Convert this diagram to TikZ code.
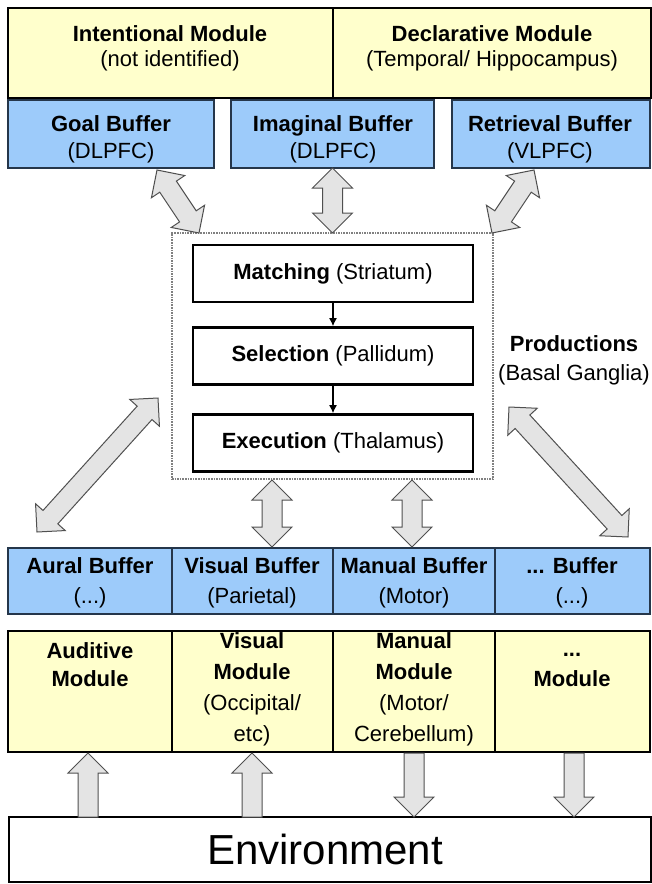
\documentclass[tikz,border=0pt]{standalone}
\usepackage{fontspec}
\setmainfont{Liberation Sans}
\usetikzlibrary{calc}
\definecolor{modfill}{HTML}{FFFFCC}
\definecolor{buffill}{HTML}{9DCBFA}
\definecolor{arrfill}{HTML}{E4E4E4}
\definecolor{arrline}{HTML}{505050}
\definecolor{bufline}{HTML}{25364A}
\newcommand\fs{\fontsize{22}{26}\selectfont}
\newcommand\blockdbl[2]{%
  \coordinate (ha) at ($(#1)!20pt!(#2)$);
  \coordinate (hb) at ($(#2)!20pt!(#1)$);
  \draw[blockarr] (#1) -- ($(ha)!20pt!90:(#2)$) -- ($(ha)!10pt!90:(#2)$) -- ($(hb)!10pt!-90:(#1)$) -- ($(hb)!20pt!-90:(#1)$) -- (#2) -- ($(hb)!20pt!90:(#1)$) -- ($(hb)!10pt!90:(#1)$) -- ($(ha)!10pt!-90:(#2)$) -- ($(ha)!20pt!-90:(#2)$) -- cycle;}
\newcommand\blocksgl[2]{%
  \coordinate (hb) at ($(#2)!20pt!(#1)$);
  \draw[blockarr] ($(#1)!10pt!90:(#2)$) -- ($(hb)!10pt!-90:(#1)$) -- ($(hb)!20pt!-90:(#1)$) -- (#2) -- ($(hb)!20pt!90:(#1)$) -- ($(hb)!10pt!90:(#1)$) -- ($(#1)!10pt!-90:(#2)$) -- cycle;}
\usetikzlibrary{arrows.meta}
\tikzset{
  boxbase/.style={rectangle, anchor=north west, inner sep=0pt, outer sep=0pt},
  modbox/.style={boxbase, draw=black, line width=2.6pt, fill=modfill},
  bufbox/.style={boxbase, draw=bufline, line width=1.6pt, fill=buffill},
  prodbox/.style={rectangle, draw=black, line width=2.6pt, fill=white, minimum width=280pt, minimum height=57pt, inner sep=0pt, font=\fs},
  dotbox/.style={boxbase, draw=gray, densely dotted, line width=1.6pt},
  envbox/.style={boxbase, draw=black, line width=2.6pt, fill=white},
  ttl/.style={anchor=base, inner sep=0pt, font=\fs\bfseries},
  sub/.style={anchor=base, inner sep=0pt, font=\fs},
  blockarr/.style={draw=arrline, line width=1pt, fill=arrfill, line join=miter},
  smallarr/.style={-{Latex[length=8pt,width=8pt]}, line width=1.4pt, black}
}
\begin{document}
\begin{tikzpicture}[x=1pt,y=-1pt]
\useasboundingbox (0,0) rectangle (652,884);
% top modules
\node[modbox, minimum width=325pt, minimum height=90pt] (intm) at (8,8) {};
\node[modbox, minimum width=318pt, minimum height=90pt] (decm) at (333,8) {};
\node[ttl] (intmt) at (170,41) {Intentional Module};
\node[sub] (intms) at (170,66) {(not identified)};
\node[ttl] (decmt) at (492,41) {Declarative Module};
\node[sub] (decms) at (492,66) {(Temporal/ Hippocampus)};
% top buffers
\node[bufbox, minimum width=206pt, minimum height=68pt] (goal) at (8,100) {};
\node[bufbox, minimum width=203pt, minimum height=68pt] (imag) at (231,100) {};
\node[bufbox, minimum width=198pt, minimum height=68pt] (retr) at (452,100) {};
\node[ttl] (goalt) at (111,131) {Goal Buffer};
\node[sub] (goals) at (111,158) {(DLPFC)};
\node[ttl] (imagt) at (333,131) {Imaginal Buffer};
\node[sub] (imags) at (333,158) {(DLPFC)};
\node[ttl] (retrt) at (550,131) {Retrieval Buffer};
\node[sub] (retrs) at (550,158) {(VLPFC)};
% productions
\node[dotbox, minimum width=321pt, minimum height=246pt] (prod) at (172,233) {};
\node[prodbox] (match) at (333,273.5) {{\bfseries Matching} (Striatum)};
\node[prodbox] (sel) at (333,356) {{\bfseries Selection} (Pallidum)};
\node[prodbox] (exec) at (333,443) {{\bfseries Execution} (Thalamus)};
\draw[smallarr] (match.south) -- (sel.north);
\draw[smallarr] (sel.south) -- (exec.north);
\node[ttl] (prodt) at (574,351) {Productions};
\node[sub] (prods) at (574,380) {(Basal Ganglia)};
% bottom buffers
\node[bufbox, minimum width=164pt, minimum height=66pt] (aural) at (8,548) {};
\node[bufbox, minimum width=161pt, minimum height=66pt] (visb) at (172,548) {};
\node[bufbox, minimum width=162pt, minimum height=66pt] (manb) at (333,548) {};
\node[bufbox, minimum width=155pt, minimum height=66pt] (othb) at (495,548) {};
\node[ttl] (auralt) at (90,573) {Aural Buffer};
\node[sub] (aurals) at (90,603) {(...)};
\node[ttl] (visbt) at (252,573) {Visual Buffer};
\node[sub] (visbs) at (252,603) {(Parietal)};
\node[ttl] (manbt) at (414,573) {Manual Buffer};
\node[sub] (manbs) at (414,603) {(Motor)};
\node[ttl] (othbt) at (572,573) {... Buffer};
\node[sub] (othbs) at (572,603) {(...)};
% bottom modules
\node[modbox, minimum width=164pt, minimum height=121pt] (audm) at (8,631) {};
\node[modbox, minimum width=161pt, minimum height=121pt] (vism) at (172,631) {};
\node[modbox, minimum width=162pt, minimum height=121pt] (manm) at (333,631) {};
\node[modbox, minimum width=155pt, minimum height=121pt] (othm) at (495,631) {};
\node[ttl] (audm1) at (90,658) {Auditive};
\node[ttl] (audm2) at (90,686) {Module};
\node[ttl] (vism1) at (252,648) {Visual};
\node[ttl] (vism2) at (252,679) {Module};
\node[sub] (vism3) at (252,710) {(Occipital/};
\node[sub] (vism4) at (252,741) {etc)};
\node[ttl] (manm1) at (414,648) {Manual};
\node[ttl] (manm2) at (414,679) {Module};
\node[sub] (manm3) at (414,710) {(Motor/};
\node[sub] (manm4) at (414,741) {Cerebellum)};
\node[ttl] (othm1) at (572,656) {...};
\node[ttl] (othm2) at (572,686) {Module};
% environment
\node[envbox, minimum width=642pt, minimum height=65pt] (env) at (9,817) {};
\node[anchor=base, inner sep=0pt, font=\fontsize{42}{48}\selectfont] (envt) at (325,864) {Environment};
% arrow end points
\coordinate (g1) at (157,170); \coordinate (g2) at (199,233);
\coordinate (r1) at (534,170); \coordinate (r2) at (492,233);
\coordinate (l1) at (158,398); \coordinate (l2) at (37,532);
\coordinate (q1) at (509,407); \coordinate (q2) at (628,537);
\coordinate (v1) at (272,480); \coordinate (v2) at (272,547);
\coordinate (m1) at (412,480); \coordinate (m2) at (412,547);
\coordinate (e1) at (88,817); \coordinate (e2) at (88,753);
\coordinate (e3) at (252,817); \coordinate (e4) at (252,753);
\coordinate (e5) at (414,753); \coordinate (e6) at (414,817);
\coordinate (e7) at (574,753); \coordinate (e8) at (574,817);
\blockdbl{g1}{g2}
\blockdbl{imag.south}{prod.north}
\blockdbl{r1}{r2}
\blockdbl{l1}{l2}
\blockdbl{q1}{q2}
\blockdbl{v1}{v2}
\blockdbl{m1}{m2}
\blocksgl{e1}{e2}
\blocksgl{e3}{e4}
\blocksgl{e5}{e6}
\blocksgl{e7}{e8}
\end{tikzpicture}
\end{document}
